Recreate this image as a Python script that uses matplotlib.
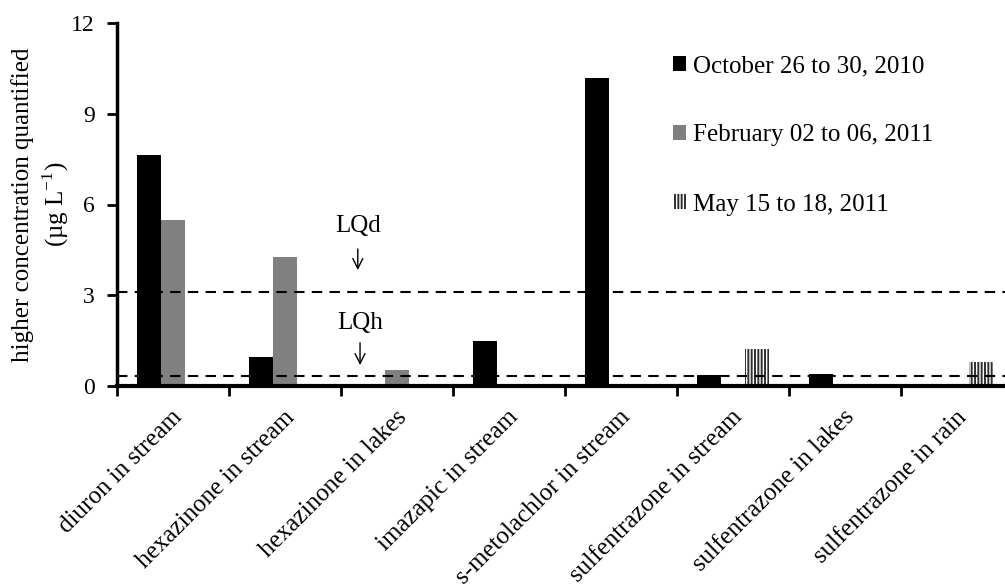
import numpy as np
import matplotlib
matplotlib.use('Agg')
import matplotlib.pyplot as plt
import matplotlib.transforms as mtransforms

plt.rcParams['font.family'] = ['Liberation Serif', 'DejaVu Serif']
plt.rcParams['mathtext.fontset'] = 'custom'
plt.rcParams['mathtext.rm'] = 'Liberation Serif'
plt.rcParams['hatch.linewidth'] = 1.4

categories = ['diuron in stream', 'hexazinone in stream', 'hexazinone in lakes',
              'imazapic in stream', 's-metolachlor in stream', 'sulfentrazone in stream',
              'sulfentrazone in lakes', 'sulfentrazone in rain']
series_names = ['October 26 to 30, 2010', 'February 02 to 06, 2011', 'May 15 to 18, 2011']
oct_2010 = [7.64, 0.96, 0, 1.49, 10.18, 0.36, 0.40, 0]
feb_2011 = [5.49, 4.27, 0.53, 0, 0, 0, 0, 0]
may_2011 = [0, 0, 0, 0, 0, 1.22, 0, 0.79]
lq_d = 3.12
lq_h = 0.34
yticks = [0, 3, 6, 9, 12]

fig = plt.figure(figsize=(10.05, 5.84), dpi=100)
ax = fig.add_axes([117 / 1005, 1 - 386 / 584, 896 / 1005, 363 / 584])

x = np.arange(len(categories))
w = 0.214
ax.bar(x - w, oct_2010, w, color='black', label=series_names[0], zorder=2)
ax.bar(x, feb_2011, w, color='#808080', label=series_names[1], zorder=2)
ax.bar(x + w, may_2011, w, color='white', edgecolor='#303030', hatch='|||||',
       linewidth=0, label=series_names[2], zorder=2)

ax.axhline(lq_d, color='black', lw=1.5, dashes=(5, 3.5), zorder=3)
ax.axhline(lq_h, color='black', lw=1.5, dashes=(5, 3.5), zorder=3)

ax.annotate('', xy=(1.65, 3.74), xytext=(1.65, 4.62),
            arrowprops=dict(arrowstyle='->', color='black', lw=1, mutation_scale=18))
ax.text(1.65, 5.3, 'LQd', ha='center', va='center', fontsize=18)
ax.annotate('', xy=(1.67, 0.6), xytext=(1.67, 1.52),
            arrowprops=dict(arrowstyle='->', color='black', lw=1, mutation_scale=18))
ax.text(1.67, 2.08, 'LQh', ha='center', va='center', fontsize=18)

ax.set_xlim(-0.5, len(categories) - 0.5)
ax.set_ylim(0, 12)
ax.set_yticks(yticks)
ax.tick_params(axis='y', labelsize=17, width=2, length=7, pad=9, direction='out')

ax.set_xticks(x)
ax.set_xticks(np.arange(len(categories) + 1) - 0.5, minor=True)
ax.tick_params(axis='x', which='major', length=0, pad=20)
ax.tick_params(axis='x', which='minor', length=7, width=2, direction='out')
ax.set_xticklabels(categories, rotation=45, ha='right', va='center',
                   rotation_mode='anchor', fontsize=18)
offset = mtransforms.ScaledTranslation(6 / 100, 0, fig.dpi_scale_trans)
for lab in ax.get_xticklabels():
    lab.set_transform(lab.get_transform() + offset)

for side in ['top', 'right']:
    ax.spines[side].set_visible(False)
ax.spines['left'].set_linewidth(2.5)
ax.spines['bottom'].set_linewidth(3)

ax.set_ylabel('higher concentration quantified\n(µg L$^{-1}$)', fontsize=18,
              linespacing=1.3)
ax.yaxis.set_label_coords(-0.051, 0.5)

leg = ax.legend(loc='upper left', bbox_to_anchor=(660 / 1005, 1 - 43 / 584),
                bbox_transform=fig.transFigure, frameon=False, fontsize=18,
                handlelength=0.52, handleheight=0.52, handletextpad=0.28,
                labelspacing=1.88, borderpad=0)

fig.savefig('out.png', dpi=100)
